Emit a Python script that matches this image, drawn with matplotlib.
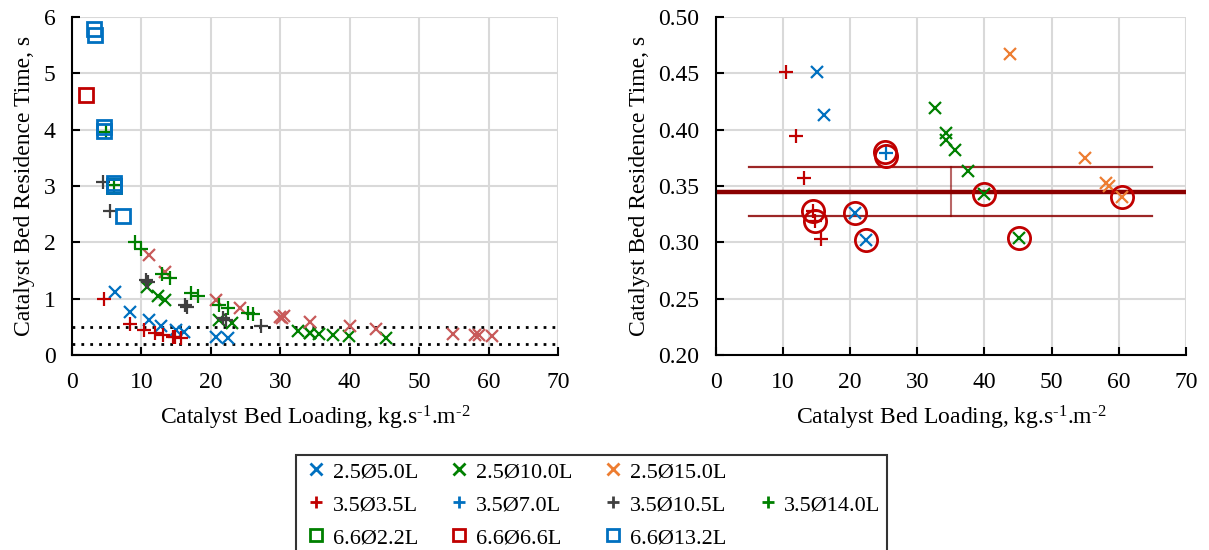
import matplotlib
matplotlib.use("Agg")
import matplotlib.pyplot as plt
from matplotlib.lines import Line2D
from matplotlib.ticker import FormatStrFormatter, MultipleLocator

plt.rcParams['font.family'] = ['Liberation Serif', 'DejaVu Serif']
plt.rcParams['mathtext.fontset'] = 'custom'
plt.rcParams['mathtext.rm'] = 'Liberation Serif'
plt.rcParams['mathtext.it'] = 'Liberation Serif:italic'
plt.rcParams['mathtext.bf'] = 'Liberation Serif:bold'

# ---------------- data ----------------
# 2.5Ø5.0L (blue x)
s25_5_x = [6.2, 8.35, 11.1, 12.8, 15.0, 16.07, 20.8, 22.4]
s25_5_y = [1.11, 0.77, 0.62, 0.51, 0.451, 0.413, 0.326, 0.302]
# 2.5Ø10.0L (green x)
s25_10_x = [10.85, 12.4, 13.4, 21.2, 23.1, 32.6, 34.2, 34.3, 35.6, 37.6, 39.9, 45.2]
s25_10_y = [1.21, 1.04, 0.98, 0.63, 0.57, 0.419, 0.397, 0.391, 0.382, 0.363, 0.343, 0.304]
# 2.5Ø15.0L (orange x / indian red on left)
s25_15_x = [11.1, 13.4, 20.8, 24.2, 30.0, 30.3, 30.5, 34.2, 40.0, 43.8, 54.9, 58.1, 58.6, 60.5]
s25_15_y = [1.77, 1.48, 0.97, 0.83, 0.68, 0.66, 0.69, 0.59, 0.51, 0.467, 0.375, 0.353, 0.350, 0.340]
# 3.5Ø3.5L (red +)
s35_35_x = [4.66, 8.35, 10.4, 11.9, 13.1, 14.5, 14.8, 15.7]
s35_35_y = [0.99, 0.55, 0.451, 0.394, 0.357, 0.328, 0.319, 0.303]
# 3.5Ø7.0L (blue +) - shown on the right chart
s35_7_x = [25.3]
s35_7_y = [0.379]
# 3.5Ø10.5L (dark grey +)
s35_105_x = [4.5, 5.5, 10.6, 10.9, 16.3, 16.6, 21.8, 22.2, 27.2]
s35_105_y = [3.08, 2.55, 1.33, 1.30, 0.88, 0.85, 0.65, 0.62, 0.51]
# 3.5Ø14.0L (green +)
s35_14_x = [4.9, 6.1, 9.07, 9.94, 12.9, 14.1, 17.2, 18.2, 21.1, 22.5, 25.4, 26.1]
s35_14_y = [3.96, 3.02, 2.00, 1.88, 1.44, 1.36, 1.10, 1.05, 0.89, 0.83, 0.75, 0.73]
# 6.6Ø2.2L (green square)
s66_22_x = [6.1]
s66_22_y = [3.0]
# 6.6Ø6.6L (red square)
s66_66_x = [1.97]
s66_66_y = [4.62]
# 6.6Ø13.2L (blue square)
s66_132_x = [3.2, 3.3, 4.6, 4.6, 6.1, 6.1, 7.4]
s66_132_y = [5.78, 5.68, 4.05, 3.98, 3.06, 3.00, 2.47]

# highlighted points (right chart)
circ_x = [25.2, 25.4, 14.5, 14.8, 20.8, 22.4, 39.9, 45.2, 60.5]
circ_y = [0.380, 0.377, 0.328, 0.319, 0.326, 0.302, 0.343, 0.304, 0.340]

# reference lines
left_hlines = [0.5, 0.2]
right_mean = 0.345
right_band = [0.367, 0.323]
band_x = [5, 65]
band_vx = 35

labels = ['2.5Ø5.0L', '2.5Ø10.0L', '2.5Ø15.0L', '3.5Ø3.5L', '3.5Ø7.0L',
          '3.5Ø10.5L', '3.5Ø14.0L', '6.6Ø2.2L', '6.6Ø6.6L', '6.6Ø13.2L']

BLUE = '#0070C0'
GREEN = '#008000'
ORANGE = '#ED7D31'
INDRED = '#C85A5A'
RED = '#C00000'
GREY = '#404040'
DARKRED = '#8B0000'

fig = plt.figure(figsize=(12.09, 5.5), dpi=100)
axL = fig.add_axes([0.0596, 0.3545, 0.402, 0.6145])
axR = fig.add_axes([0.592, 0.3545, 0.389, 0.6145])

FS = 17
XLABEL = r'Catalyst Bed Loading, kg.s$^{\text{-1}}$.m$^{\text{-2}}$'


def style(ax):
    ax.set_axisbelow(True)
    ax.grid(True, color='#D9D9D9', linewidth=1.5)
    for s in ['top', 'right']:
        ax.spines[s].set_visible(False)
    for s in ['left', 'bottom']:
        ax.spines[s].set_color('black')
        ax.spines[s].set_linewidth(1.5)
    ax.tick_params(direction='in', length=6, width=1.5, labelsize=FS, pad=12)
    ax.set_xlim(0, 70)
    ax.xaxis.set_major_locator(MultipleLocator(10))
    ax.set_xlabel(XLABEL, fontsize=FS, labelpad=8)
    ax.set_ylabel('Catalyst Bed Residence Time, s', fontsize=FS, labelpad=6)


def series(ax, c15, include_blue_plus):
    kx = dict(linestyle='none', marker='x', markersize=8, markeredgewidth=1.6)
    kp = dict(linestyle='none', marker='+', markersize=10, markeredgewidth=1.6)
    ks = dict(linestyle='none', marker='s', markersize=10, markeredgewidth=2,
              markerfacecolor='none')
    ax.plot(s25_5_x, s25_5_y, color=BLUE, **kx)
    ax.plot(s25_10_x, s25_10_y, color=GREEN, **kx)
    ax.plot(s25_15_x, s25_15_y, color=c15, **kx)
    ax.plot(s35_35_x, s35_35_y, color=RED, **kp)
    if include_blue_plus:
        ax.plot(s35_7_x, s35_7_y, color=BLUE, **kp)
    ax.plot(s35_105_x, s35_105_y, color=GREY, **kp)
    ax.plot(s35_14_x, s35_14_y, color=GREEN, **kp)
    ax.plot(s66_22_x, s66_22_y, color=GREEN, **ks)
    ax.plot(s66_66_x, s66_66_y, color=RED, **ks)
    ax.plot(s66_132_x, s66_132_y, color=BLUE, **ks)


# left chart
style(axL)
axL.set_ylim(0, 6)
axL.yaxis.set_major_locator(MultipleLocator(1))
for yv in left_hlines:
    axL.axhline(yv, color='black', linestyle=(0, (1, 2.2)), linewidth=2, zorder=1.5)
series(axL, INDRED, False)

# right chart
style(axR)
axR.set_ylim(0.2, 0.5)
axR.yaxis.set_major_locator(MultipleLocator(0.05))
axR.yaxis.set_major_formatter(FormatStrFormatter('%.2f'))
axR.axhline(right_mean, color=DARKRED, linewidth=3.2, zorder=1.5)
for yv in right_band:
    axR.plot(band_x, [yv, yv], color=DARKRED, linewidth=1.6, alpha=0.85, zorder=1.5)
axR.plot([band_vx, band_vx], right_band, color=DARKRED, linewidth=1.5, alpha=0.6, zorder=1.5)
series(axR, ORANGE, True)
axR.plot(circ_x, circ_y, linestyle='none', marker='o', markersize=16,
         markerfacecolor='none', markeredgecolor=RED, markeredgewidth=2, zorder=3)


# legend (row layout with blanks, filled column-wise)
def proxy(marker, color):
    if marker == 's':
        return Line2D([], [], linestyle='none', marker='s', markersize=9,
                      markeredgewidth=2, markerfacecolor='none', color=color)
    return Line2D([], [], linestyle='none', marker=marker,
                  markersize=8 if marker == 'x' else 9,
                  markeredgewidth=2, color=color)


blank = Line2D([], [], linestyle='none', marker=None)
H = [proxy('x', BLUE), proxy('x', GREEN), proxy('x', ORANGE),
     proxy('+', RED), proxy('+', BLUE), proxy('+', GREY), proxy('+', GREEN),
     proxy('s', GREEN), proxy('s', RED), proxy('s', BLUE)]
order_h = [H[0], H[3], H[7], H[1], H[4], H[8], H[2], H[5], H[9], blank, H[6], blank]
order_l = [labels[0], labels[3], labels[7], labels[1], labels[4], labels[8],
           labels[2], labels[5], labels[9], '', labels[6], '']
leg = fig.legend(order_h, order_l, ncol=4, loc='upper left',
                 bbox_to_anchor=(0.245, 0.1727), fontsize=16, frameon=True,
                 fancybox=False, edgecolor='black', handlelength=1.2,
                 handletextpad=0.15, columnspacing=1.25, labelspacing=0.56,
                 borderpad=0.3, borderaxespad=0)
leg.get_frame().set_linewidth(1.5)

fig.savefig('out.png', dpi=100)
